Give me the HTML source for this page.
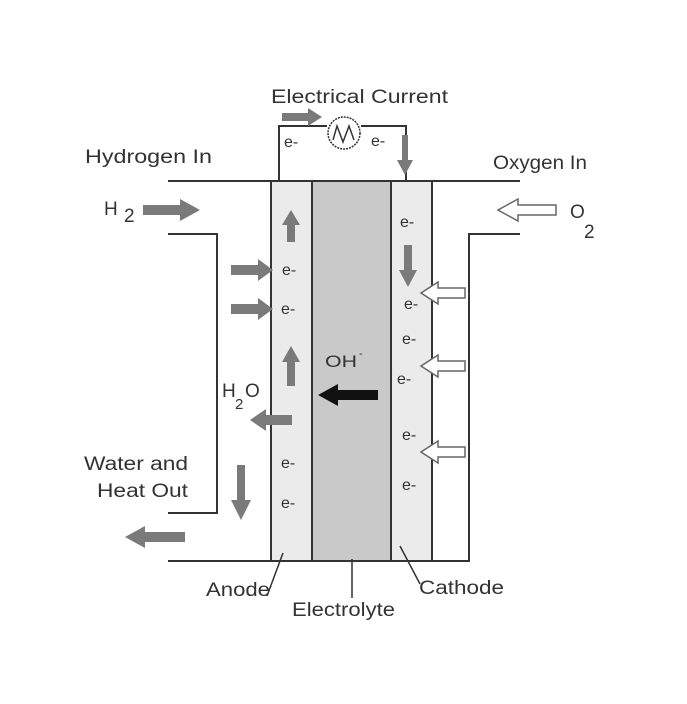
<!DOCTYPE html>
<html><head><style>body{margin:0;background:#fff}svg{display:block}text{font-family:"Liberation Sans",sans-serif;fill:#333}</style></head><body>
<svg width="687" height="704" viewBox="0 0 687 704">
<rect x="271" y="181" width="41" height="380" fill="#ebebeb" stroke="#333" stroke-width="2"/>
<rect x="312" y="181" width="79" height="380" fill="#c9c9c9" stroke="#333" stroke-width="2"/>
<rect x="391" y="181" width="41" height="380" fill="#ebebeb" stroke="#333" stroke-width="2"/>
<g stroke="#333" stroke-width="2" fill="none">
<path d="M168 181 H520"/>
<path d="M168 234 H217 V513 H168"/>
<path d="M168 561 H469 V234 H520"/>
<path d="M279 181 V126 H327 M361 126 H406 V181"/>
<path d="M283 553 L267 596 M352 559 V598 M400 546 L420 584" stroke-width="1.5"/>
</g>
<circle cx="344" cy="133" r="16" fill="#fff" stroke="#333" stroke-width="1.5" stroke-dasharray="2 1"/>
<path d="M333 140 L337 126 L343 142 L349 126 L354 140" fill="none" stroke="#333" stroke-width="1.5"/>
<g fill="#7a7a7a">
<path d="M282 113 H308 V108 L322 117 L308 126 V121 H282Z"/>
<path d="M402 135 V160 H397 L405 175 L413 160 H408 V135Z"/>
<path d="M143 205 H180 V199 L200 210 L180 221 V215 H143Z"/>
<path d="M231 265 H258 V259 L273 270 L258 281 V275 H231Z"/>
<path d="M231 304 H258 V298 L273 309 L258 320 V314 H231Z"/>
<path d="M287 242 V225 H282 L291 210 L300 225 H295 V242Z"/>
<path d="M287 386 V362 H282 L291 346 L300 362 H295 V386Z"/>
<path d="M292 415 H266 V409 L250 420 L266 431 V425 H292Z"/>
<path d="M237 465 V500 H231 L241 520 L251 500 H245 V465Z"/>
<path d="M185 532 H145 V526 L125 537 L145 548 V542 H185Z"/>
<path d="M404 245 V270 H399 L408 287 L417 270 H412 V245Z"/>
</g>
<path d="M378 390 H338 V384 L318 395 L338 406 V400 H378Z" fill="#111"/>
<g fill="#fff" stroke="#666" stroke-width="1.5">
<path d="M556 205 H518 V199 L498 210 L518 221 V215 H556Z"/>
<path d="M465 288 H438 V282 L421 293 L438 304 V298 H465Z"/>
<path d="M465 361 H438 V355 L421 366 L438 377 V371 H465Z"/>
<path d="M465 447 H438 V441 L421 452 L438 463 V457 H465Z"/>
</g>
<g font-size="19">
<text x="271" y="103" textLength="177" lengthAdjust="spacingAndGlyphs">Electrical Current</text>
<text x="85" y="163" textLength="127" lengthAdjust="spacingAndGlyphs">Hydrogen In</text>
<text x="493" y="169" textLength="94" lengthAdjust="spacingAndGlyphs">Oxygen In</text>
<text x="104" y="215">H</text><text x="124" y="222">2</text>
<text x="570" y="218">O</text><text x="584" y="238">2</text>
<text x="84" y="470" textLength="104" lengthAdjust="spacingAndGlyphs">Water and</text>
<text x="97" y="497" textLength="91" lengthAdjust="spacingAndGlyphs">Heat Out</text>
<text x="222" y="397">H</text><text x="235" y="409" font-size="15">2</text><text x="245" y="397">O</text>
<text x="325" y="367" font-size="17" textLength="32" lengthAdjust="spacingAndGlyphs">OH</text><text x="359" y="357" font-size="11">-</text>
<text x="206" y="596" textLength="64" lengthAdjust="spacingAndGlyphs">Anode</text>
<text x="292" y="616" textLength="103" lengthAdjust="spacingAndGlyphs">Electrolyte</text>
<text x="419" y="594" textLength="85" lengthAdjust="spacingAndGlyphs">Cathode</text>
</g>
<g font-size="16">
<text x="284" y="147">e-</text><text x="371" y="146">e-</text>
<text x="282" y="275">e-</text><text x="281" y="314">e-</text>
<text x="281" y="468">e-</text><text x="281" y="508">e-</text>
<text x="400" y="227">e-</text><text x="404" y="309">e-</text>
<text x="402" y="344">e-</text><text x="397" y="384">e-</text>
<text x="402" y="440">e-</text><text x="402" y="490">e-</text>
</g>
</svg>
</body></html>
